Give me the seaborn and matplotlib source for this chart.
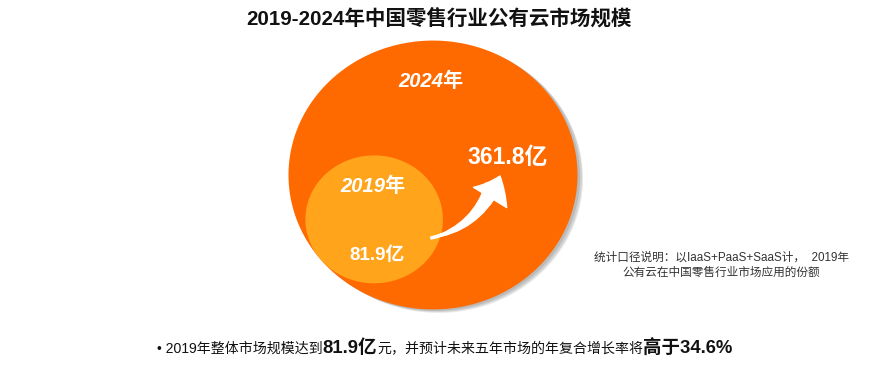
import numpy as np
import pandas as pd
import matplotlib
matplotlib.use("Agg")
import matplotlib.pyplot as plt
import seaborn as sns
from matplotlib.path import Path
from matplotlib.patches import FancyArrowPatch

sns.set_theme(style="white")
plt.rcParams['font.family'] = ['Liberation Sans', 'Noto Sans CJK SC']
plt.rcParams['axes.unicode_minus'] = False

# ---- data ----
years = ["2019年", "2024年"]
values = [81.9, 361.8]          # 亿元
value_labels = ["81.9亿", "361.8亿"]
colors = ["#FFA41B", "#FF6A00"]
title = "2019-2024年中国零售行业公有云市场规模"
note_lines = ["统计口径说明：以IaaS+PaaS+SaaS计，  2019年", "公有云在中国零售行业市场应用的份额"]
bottom_parts = [("• 2019年整体市场规模达到", False), ("81.9亿", True),
                ("元，并预计未来五年市场的年复合增长率将", False), ("高于34.6%", True)]

# ---- layout ----
W, H, DPI = 880, 380, 100
fig = plt.figure(figsize=(W / DPI, H / DPI), dpi=DPI)
ax = fig.add_axes([0, 0, 1, 1])

aspect = 1.075
t = np.linspace(0, 2 * np.pi, 200)
ell = Path(np.column_stack([0.5 * np.cos(t), 0.5 / aspect * np.sin(t)]))

K = 119.7  # pt^2 per unit value (area proportional)
big_c = np.array([433.0, 175.0])
R_big = 289 / 2
R_small = R_big * np.sqrt(values[0] / values[1])
ang = np.deg2rad(141)
small_c = big_c + (R_big - R_small) * np.array([np.cos(ang), np.sin(ang) / aspect])

df = pd.DataFrame({"year": years, "value": values,
                   "x": [small_c[0], big_c[0]], "y": [small_c[1], big_c[1]]})
df = df.iloc[::-1].reset_index(drop=True)  # draw big first

# soft shadow of big circle
for off, a in [(5, 0.18), (3.5, 0.25), (2, 0.3)]:
    sns.scatterplot(x=[big_c[0] + off], y=[big_c[1] + off * 0.6], s=values[1] * K,
                    marker=ell, color="#888888", alpha=a, linewidth=0, ax=ax, legend=False)

sns.scatterplot(data=df, x="x", y="y", hue="year", size="value",
                sizes={v: v * K for v in values},
                palette=dict(zip(years, colors)), marker=ell,
                linewidth=0, edgecolor="none", alpha=1, ax=ax, legend=False)
ax.set_xlim(0, W)
ax.set_ylim(H, 0)
ax.axis("off")

# arrow: tapered tail (wedge) + head
tail = FancyArrowPatch((493, 186), (431, 238), connectionstyle="arc3,rad=-0.26",
                       arrowstyle="wedge,tail_width=11,shrink_factor=0.5",
                       mutation_scale=1, color="white", shrinkA=0, shrinkB=0, zorder=5)
ax.add_patch(tail)
head = FancyArrowPatch((431, 238), (500, 176), connectionstyle="arc3,rad=0.28",
                       arrowstyle="simple,head_length=17,head_width=28,tail_width=1.5",
                       mutation_scale=1, color="white", shrinkA=0, shrinkB=0, zorder=5)
ax.add_patch(head)

# texts
ax.text(439, 18, title, ha="center", va="center", fontsize=14.8, fontweight="bold", color="#111111")
ax.text(431, 81, years[1], ha="center", va="center", fontsize=14.5, fontweight="bold",
        style="italic", color="white")
ax.text(373, 186, years[0], ha="center", va="center", fontsize=14.5, fontweight="bold",
        style="italic", color="white")
ax.text(377, 255, value_labels[0], ha="center", va="center", fontsize=13.5, fontweight="bold", color="white")
ax.text(508, 157, value_labels[1], ha="center", va="center", fontsize=16.5, fontweight="bold", color="white")

ax.text(721, 258, note_lines[0], ha="center", va="center", fontsize=8.4, color="#333333")
ax.text(721, 273, note_lines[1], ha="center", va="center", fontsize=8.4, color="#333333")

# bottom mixed text
fig.canvas.draw()
r = fig.canvas.get_renderer()
x = 157
inv = ax.transData.inverted()
for txt, bold in bottom_parts:
    tt = ax.text(x, 353, txt, ha="left", va="baseline",
                 fontsize=13.3 if bold else 10.05,
                 fontweight="bold" if bold else "normal", color="#111111")
    bb = tt.get_window_extent(renderer=r)
    x = inv.transform((bb.x1, bb.y1))[0]

fig.savefig("out.png", dpi=DPI, facecolor="white")
